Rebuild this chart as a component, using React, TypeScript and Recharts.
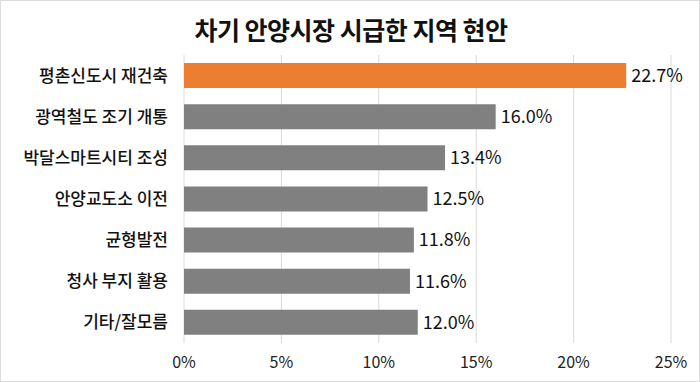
import React from "react";
import {
  BarChart,
  Bar,
  XAxis,
  YAxis,
  CartesianGrid,
  Cell,
  LabelList,
} from "recharts";

const title = "차기 안양시장 시급한 지역 현안";

const categories = [
  "평촌신도시 재건축",
  "광역철도 조기 개통",
  "박달스마트시티 조성",
  "안양교도소 이전",
  "균형발전",
  "청사 부지 활용",
  "기타/잘모름",
];

const values = [22.7, 16.0, 13.4, 12.5, 11.8, 11.6, 12.0];

const xTicks = [0, 5, 10, 15, 20, 25];

const FONT = '"Noto Sans CJK KR", "Noto Sans", sans-serif';

export default function App() {
  const data = categories.map((name, i) => ({ name, value: values[i] }));

  return (
    <div
      style={{
        position: "relative",
        width: 700,
        height: 382,
        boxSizing: "border-box",
        border: "1px solid #dcdcdc",
        background: "#fff",
        fontFamily: FONT,
        overflow: "hidden",
      }}
    >
      <style>{"body{margin:0}"}</style>
      <div
        style={{
          position: "absolute",
          top: 10,
          left: 0,
          width: 700,
          textAlign: "center",
          fontSize: 25,
          fontWeight: 700,
          color: "#111",
          letterSpacing: -0.5,
        }}
      >
        {title}
      </div>
      <div style={{ position: "absolute", top: -1, left: -1 }}>
        <BarChart
          width={700}
          height={382}
          data={data}
          layout="vertical"
          margin={{ top: 55, right: 29, bottom: 0, left: 0 }}
          barCategoryGap={8}
        >
          <CartesianGrid horizontal={false} stroke="#d9d9d9" />
          <XAxis
            type="number"
            domain={[0, 25]}
            ticks={xTicks}
            tickFormatter={(v: number) => `${v}%`}
            axisLine={false}
            tickLine={false}
            tickMargin={8}
            height={39}
            tick={{ fontSize: 16, fill: "#222", fontFamily: FONT }}
          />
          <YAxis
            type="category"
            dataKey="name"
            width={184}
            axisLine={false}
            tickLine={false}
            tickMargin={10}
            tick={{ fontSize: 17, fill: "#111", fontWeight: 500, fontFamily: FONT }}
          />
          <Bar dataKey="value" barSize={25} isAnimationActive={false}>
            {data.map((d, i) => (
              <Cell key={d.name} fill={i === 0 ? "#ED7D31" : "#808080"} />
            ))}
            <LabelList
              dataKey="value"
              position="right"
              offset={5}
              formatter={(v: number) => `${v.toFixed(1)}%`}
              style={{ fontSize: 18, fill: "#111", fontFamily: FONT }}
            />
          </Bar>
        </BarChart>
      </div>
    </div>
  );
}
